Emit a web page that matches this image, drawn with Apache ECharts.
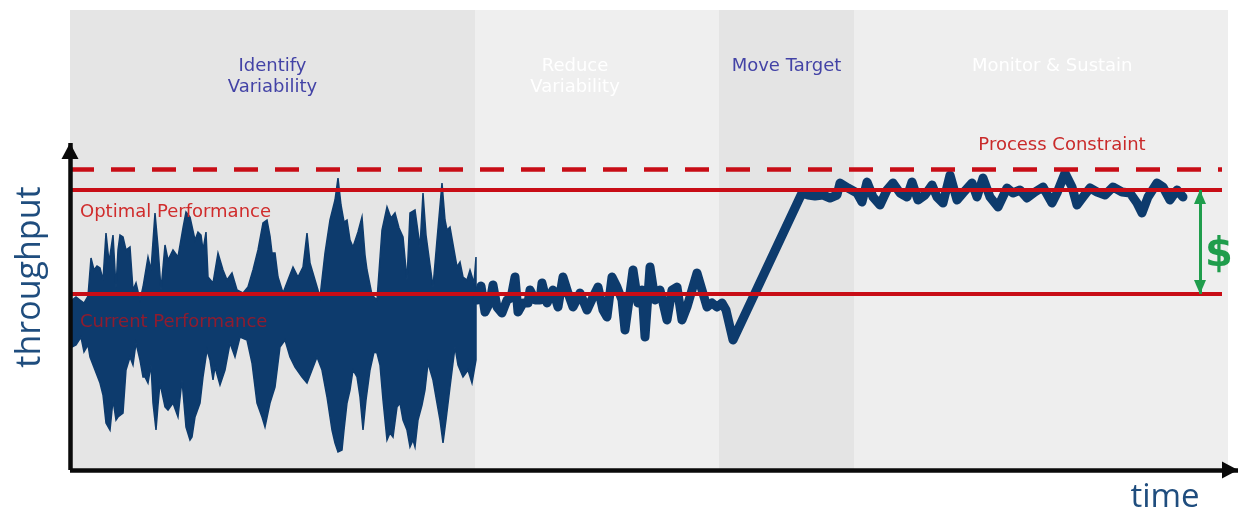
<!DOCTYPE html>
<html>
<head>
<meta charset="utf-8">
<title>Throughput improvement roadmap</title>
<script src="https://cdn.jsdelivr.net/npm/echarts/dist/echarts.min.js"></script>
<style>
  html, body { margin: 0; padding: 0; background: #ffffff; }
  #chart { width: 1239px; height: 512px; }
</style>
</head>
<body>
<div id="chart"></div>
<script>
// ---- phases along the time axis ----
const phaseNames = ['Identify\nVariability', 'Reduce\nVariability', 'Move Target', 'Monitor & Sustain'];
const phaseStart = [0, 101.25, 162.25, 196];
const phaseEnd   = [101.25, 162.25, 196, 289.5];

// ---- throughput reference levels ----
const levelNames  = ['Process Constraint', 'Optimal Performance', 'Current Performance'];
const levelValues = [75.25, 70, 44];

// ---- high-variability period: upper and lower envelope [time, throughput] ----
const wideUpper = [
  [0.5,42.5],[1.5,43.25],[2.5,42.5],[3.5,41.75],[4.5,43.5],[5.25,53],[6,50],[6.75,51],[7.5,50.5],[8.25,47.5],
  [9,59.25],[9.75,52],[10.75,58.75],[11.5,45.5],[12,55],[12.5,58.75],[13.25,58.25],[14,55],[15,55.75],[15.75,45],
  [16.5,46.75],[17.5,42.5],[18.25,45.75],[19.5,53.25],[20.25,50],[21.25,64.25],[22,55.75],[22.75,45],[23.75,56.25],[24.5,52.5],
  [25.75,55],[27,53.25],[28.25,60.5],[29,64.5],[30,63.25],[31.25,57.5],[32,59.5],[32.75,58.75],[33.25,55],[34,59.5],
  [34.5,48.25],[35.75,46.75],[37,54.25],[38.25,50],[39.25,47.5],[40.5,49.25],[41.75,45],[43.25,44.25],[44.5,45.75],[45.75,50],
  [47,55],[48.25,61.75],[49.25,62.5],[50,58.5],[50.5,54.25],[51.25,54.25],[52,48.25],[53.25,44.25],[54.5,47.5],[55.75,50.75],
  [57,48.25],[58.25,50.75],[59.25,59.25],[60,51.75],[61.25,47.5],[62.5,43.25],[63.75,54.25],[65,62.5],[66.25,67.5],[67,73],
  [67.75,66.25],[68.5,62],[69.25,62.5],[70,57.5],[70.75,55.75],[72,59.5],[73,63.25],[73.75,53.75],[74.25,50],[75.5,43.75],
  [76.75,42.5],[78,60],[79.25,65.75],[80.25,63],[81.25,64.25],[82.25,60.5],[83.25,58.25],[84.25,47.5],[85,64.25],[86.25,65],
  [87,59.5],[87.5,55.75],[88.25,69.25],[89,58.75],[89.5,55],[90.75,45.75],[91.75,57.5],[93,71.75],[93.75,62.5],[94.25,60],
  [95,60.75],[96,55],[96.75,50.75],[97.5,52],[98.25,48.25],[99.25,47.5],[100,50],[101,46.75],[101.5,53.25]
];
const wideLower = [
  [0.5,30.75],[1.5,31.25],[2.75,33.25],[3.5,29.5],[4.5,31.25],[5,28.25],[6.25,25],[7.5,21.75],[8.25,18.75],[9,11.75],
  [10,10],[10.75,17.5],[11.5,12.5],[12,13.25],[13.25,14.25],[14,25],[15,28.25],[15.75,26.25],[16.5,31.75],[17.5,27.5],
  [18.25,23.25],[18.75,23.25],[19.5,21.75],[20.25,26.25],[20.75,16.75],[21.5,10],[22,16.25],[22.5,21.75],[23.75,15.75],[24.5,15],
  [25.75,16.75],[27,13.25],[28,22.5],[29,10.75],[30,7.5],[30.5,8.25],[31.25,13.25],[32.5,16.75],[33.25,23.25],[34.25,30],
  [35,27.5],[35.75,22.5],[36.25,25.75],[37.5,21.25],[38.75,25],[40,31.75],[41.25,28.25],[42.5,33.25],[44.25,32.5],[45.5,26.75],
  [46.75,16.75],[48,13.25],[48.75,10.75],[50,16.75],[51.25,20.75],[52.5,30.75],[53.75,32.5],[55,28.25],[56.25,25.75],[58,23.25],
  [59.25,21.75],[60.5,25],[61.75,28.25],[63,25],[64.25,18.25],[65.5,10],[66.25,6.75],[67,4.5],[68,5],[68.5,10],
  [69.25,16.75],[70,20],[70.75,25],[71.75,23.25],[72.5,18.25],[73.25,10],[74,17.5],[75,25],[76,29.5],[76.75,29.25],
  [77.5,26.25],[78.25,17.5],[79.25,7.5],[80,9.25],[80.75,8.25],[81.75,15.75],[82.5,16.75],[83.25,12.5],[84.25,10],[85,5.75],
  [85.75,7.5],[86.25,5.75],[87,12.5],[88,16.25],[88.75,20],[89.5,26.75],[90.75,22.5],[91.75,16.75],[92.5,12.5],[93.25,6.75],
  [94,12.5],[95,20.75],[96.25,30.75],[97,26.25],[98.25,23.25],[99.5,25],[100.5,21.75],[101.5,27.5]
];

// ---- reduced variability, target move and sustained period ----
const traceTime = [
  101.75,102.75,103.75,105,105.75,106.75,108,109.25,110.25,111.25,112,113.25,114.5,115,116.25,117.5,118,119.25,120.75,122,
  123.25,124.5,125.75,127.5,129.25,130.75,132,133.25,134.25,135.5,136.75,138,138.75,140,140.75,142,143,143.75,145,146.25,
  147.5,149.25,150.5,151.75,153,154.25,155.5,156.75,158,159.25,160.5,161.75,163,164,165.75,
  183,184.5,186.25,188.25,190,191.75,192.5,194.5,196.75,198,199.25,200.75,202.5,204.25,205.75,207.5,209.25,210.5,212,213.75,
  215.5,216.75,218.25,220,221.75,223.25,225.5,226.75,228.25,230,232,234.25,235.75,237.5,239.25,241.25,243.25,245.5,246.75,248.75,
  250.5,251.75,253.25,255,256.75,258.75,260.75,263,265,266.75,268,269.5,271.75,273.25,275,276.75,278.25
];
const traceValue = [
  42.5,46,39.5,42,46.25,40.75,39.25,42.5,43,48.25,39.5,41.75,41.75,45,42.5,42.5,46.75,41.75,45,40.75,
  48.25,44.25,40.75,44.25,40,43.25,45.75,40,38.25,48.25,45.75,42.5,35,44.25,50,41.75,45,33.25,50.75,42.5,
  45,37.5,45,45.75,37.5,40.75,45,49.25,45,40.75,41.75,40.75,41.75,40,32.5,
  69.25,68.75,68.5,68.75,68,68.75,71.75,70.5,69.25,67,72,68.25,66.25,70,71.75,69.25,68.25,72,67.5,68.75,
  71.25,68.25,66.75,73.75,67.5,69.25,71.75,68.25,73,68.25,65.75,70.5,69.25,70,68,69.5,70.75,66.75,69.25,74.25,
  70.75,66.25,68.25,70.5,69.5,68.75,70.75,69.5,69.25,66.75,64.25,68.25,71.75,70.75,67.5,70,68.25
];

// ---- styling ----
const NAVY = '#0d3b6d';
const RED = '#c80d16';
const GREEN = '#1f9d4c';
const phaseFill = ['#e5e5e5', '#efefef', '#e4e4e4', '#eeeeee'];
const phaseText = ['#4343a6', '#ffffff', '#4343a6', '#ffffff'];
const phaseTitleX = ['50%', '41%', '50%', '53%'];
const LABEL_FONT = '"DejaVu Sans", Verdana, sans-serif';

const T_MAX = 292;        // time axis extent
const V_MAX = 115;        // throughput axis extent
const LEVEL_END = 288;    // reference lines stop just before the right edge
const AXIS_TOP = 81.75;   // tip of the throughput arrow
const GAP_TIME = 282.5;   // where the improvement gap is marked

const chart = echarts.init(document.getElementById('chart'), null, { renderer: 'canvas' });

const option = {
  animation: false,
  backgroundColor: '#ffffff',
  grid: { left: 70, right: 1, top: 10, bottom: 42 },
  xAxis: { type: 'value', min: 0, max: T_MAX, show: false },
  yAxis: { type: 'value', min: 0, max: V_MAX, show: false },
  graphic: [
    {
      type: 'text', x: 30, y: 277, rotation: Math.PI / 2, z: 10,
      style: { text: 'throughput', fill: '#1f4d7e', font: '34px "Open Sans", sans-serif', align: 'center', verticalAlign: 'middle' }
    },
    {
      type: 'text', x: 1165, y: 498, z: 10,
      style: { text: 'time', fill: '#1f4d7e', font: '33px "Open Sans", sans-serif', align: 'center', verticalAlign: 'middle' }
    }
  ],
  series: [
    {
      // phase backgrounds with their titles
      name: 'phases', type: 'line', data: [], z: 1, silent: true,
      markArea: {
        silent: true,
        label: {
          align: 'center', verticalAlign: 'top',
          fontFamily: LABEL_FONT, fontSize: 18, lineHeight: 21
        },
        data: phaseNames.map((name, i) => [
          {
            name: name, xAxis: phaseStart[i], itemStyle: { color: phaseFill[i] },
            label: { color: phaseText[i], position: [phaseTitleX[i], 46] }
          },
          { xAxis: phaseEnd[i] }
        ])
      }
    },
    {
      // constraint and optimal levels, drawn beneath the trace
      name: 'targets', type: 'line', data: [], z: 2, silent: true, clip: false,
      markLine: {
        silent: true, symbol: 'none', label: { show: false },
        data: [
          [{ coord: [0, levelValues[0]], lineStyle: { color: RED, width: 4.5, type: [24, 17] } }, { coord: [LEVEL_END, levelValues[0]] }],
          [{ coord: [0, levelValues[1]], lineStyle: { color: RED, width: 4, type: 'solid' } }, { coord: [LEVEL_END, levelValues[1]] }]
        ]
      },
      markPoint: {
        silent: true, symbol: 'circle', symbolSize: 0,
        label: { show: true, formatter: '{b}', fontFamily: LABEL_FONT, fontSize: 18 },
        data: [
          { name: levelNames[0], coord: [248, 81.25], label: { position: 'inside', color: '#c92a2a' } },
          { name: levelNames[1], coord: [2.5, 64.5], label: { position: 'right', distance: 0, color: '#d02c2c' } }
        ]
      }
    },
    {
      // high-variability band
      name: 'variability', type: 'custom', z: 3, silent: true, clip: false,
      data: [[0, 0]],
      renderItem: function (params, api) {
        const pts = wideUpper.map(p => api.coord(p))
          .concat(wideLower.slice().reverse().map(p => api.coord(p)));
        return {
          type: 'polygon', shape: { points: pts },
          style: { fill: NAVY, stroke: NAVY, lineWidth: 1.5, lineJoin: 'miter', miterLimit: 6 }
        };
      }
    },
    {
      // reduced variability, ramp and sustained throughput
      name: 'throughput', type: 'line', z: 3, silent: true,
      symbol: 'none', showSymbol: false,
      data: traceTime.map((t, i) => [t, traceValue[i]]),
      lineStyle: { color: NAVY, width: 9, join: 'round', cap: 'round' }
    },
    {
      // current level, axes and the improvement gap on top
      name: 'overlay', type: 'line', data: [], z: 4, silent: true, clip: false,
      markLine: {
        silent: true, symbol: 'none', label: { show: false },
        data: [
          [{ coord: [0, levelValues[2]], lineStyle: { color: RED, width: 4, type: 'solid' } }, { coord: [LEVEL_END, levelValues[2]] }],
          [
            { coord: [0, 0], symbol: 'none', lineStyle: { color: '#0a0a0a', width: 4.5, type: 'solid' } },
            { coord: [0, AXIS_TOP], symbol: 'triangle', symbolSize: [17, 16], symbolOffset: [0, '50%'] }
          ],
          [
            { coord: [0, 0], symbol: 'none', lineStyle: { color: '#0a0a0a', width: 4.5, type: 'solid' } },
            { coord: [T_MAX, 0], symbol: 'triangle', symbolSize: [17, 16], symbolOffset: [0, '50%'] }
          ],
          [
            { coord: [GAP_TIME, levelValues[2]], symbol: 'triangle', symbolSize: [12, 14], symbolOffset: [0, '50%'], lineStyle: { color: GREEN, width: 3, type: 'solid' } },
            { coord: [GAP_TIME, levelValues[1]], symbol: 'triangle', symbolSize: [12, 14], symbolOffset: [0, '50%'] }
          ]
        ]
      },
      markPoint: {
        silent: true, symbol: 'circle', symbolSize: 0,
        label: { show: true, formatter: '{b}' },
        data: [
          { name: levelNames[2], coord: [2.5, 37], label: { position: 'right', distance: 0, color: '#8f1c2f', fontFamily: LABEL_FONT, fontSize: 18 } },
          { name: '$', coord: [287.25, 53.5], label: { position: 'inside', color: GREEN, fontFamily: LABEL_FONT, fontWeight: 'bold', fontSize: 40 } }
        ]
      }
    }
  ]
};

chart.setOption(option);
</script>
</body>
</html>
